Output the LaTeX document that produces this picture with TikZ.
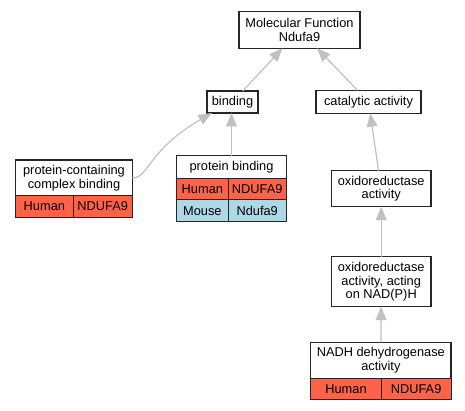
\documentclass[tikz,border=0pt]{standalone}
\usepackage{fontspec}
\setmainfont{Liberation Sans}
\usetikzlibrary{shapes,arrows,arrows.meta,positioning,fit,calc}

\definecolor{humanred}{HTML}{FF6347}
\definecolor{mouseblue}{HTML}{ADD8E6}
\definecolor{edgegray}{HTML}{C0C0C0}

\tikzset{
    term/.style={draw=black!85, line width=0.9pt, fill=white, align=center, inner sep=1pt, outer sep=0pt,
        font=\fontsize{9.6}{10.4}\selectfont},
    cell/.style={draw=black!85, line width=0.7pt, inner sep=1pt, outer sep=0pt, minimum height=16.2pt,
        font=\fontsize{9.6}{10.4}\selectfont},
    human/.style={cell, fill=humanred},
    mouse/.style={cell, fill=mouseblue},
    isa/.style={draw=edgegray, line width=0.9pt, -{Triangle[length=10pt, width=8pt, fill=edgegray]}}
}

\begin{document}
\begin{tikzpicture}[x=0.75pt, y=-0.75pt]
\useasboundingbox (0,0) rectangle (465,411);

% terms
\node[term, minimum width=90.75pt, minimum height=27.45pt] (mf) at (299.5,30) {Molecular Function\\Ndufa9};
\node[term, minimum width=38.25pt, minimum height=16.5pt] (bind) at (232.5,102) {binding};
\node[term, minimum width=78.75pt, minimum height=17.25pt] (cat) at (368.5,101.8) {catalytic activity};
\node[term, minimum width=74.8pt, minimum height=27pt] (oxred) at (381.2,188.7) {oxidoreductase\\activity};
\node[term, minimum width=74.8pt, minimum height=37.5pt] (nadph) at (381.2,281.7) {oxidoreductase\\activity, acting\\on NAD(P)H};

% annotated terms
\node[term, minimum width=87.45pt, minimum height=26.8pt] (pcc) at (74,177.8) {protein-containing\\complex binding};
\node[human, anchor=north west, minimum width=43pt] (pcc-sp) at (pcc.south west) {Human};
\node[human, anchor=north west, minimum width=44.45pt] (pcc-gn) at (pcc-sp.north east) {NDUFA9};

\node[term, minimum width=82.2pt, minimum height=17pt] (pbind) at (231.5,167) {protein binding};
\node[human, anchor=north west, minimum width=38.5pt] (pb-sp1) at (pbind.south west) {Human};
\node[human, anchor=north west, minimum width=43.7pt] (pb-gn1) at (pb-sp1.north east) {NDUFA9};
\node[mouse, anchor=north west, minimum width=38.5pt] (pb-sp2) at (pb-sp1.south west) {Mouse};
\node[mouse, anchor=north west, minimum width=43.7pt] (pb-gn2) at (pb-sp2.north east) {Ndufa9};

\node[term, minimum width=105.2pt, minimum height=27pt] (nadh) at (380.85,360.3) {NADH dehydrogenase\\activity};
\node[human, anchor=north west, minimum width=52.95pt] (nadh-sp) at (nadh.south west) {Human};
\node[human, anchor=north west, minimum width=52.25pt] (nadh-gn) at (nadh-sp.north east) {NDUFA9};

% is_a edges
\draw[isa] (bind) -- (mf);
\draw[isa] (cat) -- (mf);
\draw[isa] (pbind) -- (pbind |- bind.south);
\draw[isa] (pcc.east) .. controls +(16,1) and +(-64,37) .. (bind.-152);
\draw[isa] (oxred) -- (cat);
\draw[isa] (nadph) -- (oxred);
\draw[isa] (nadh) -- (nadph);
\end{tikzpicture}
\end{document}
